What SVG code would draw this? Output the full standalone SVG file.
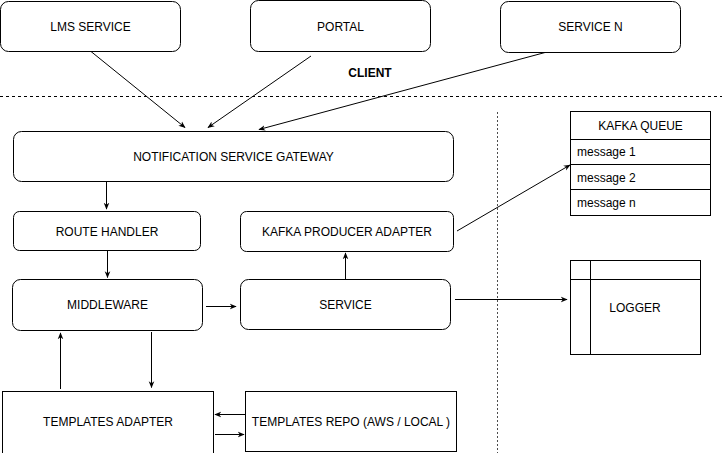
<svg xmlns="http://www.w3.org/2000/svg" width="722" height="453" viewBox="0 0 722 453">
<style>
.n{fill:#fff;stroke:#000;stroke-width:1}
.t{font-family:"Liberation Sans",Arial,sans-serif;font-size:12px;fill:#000;text-anchor:middle;dominant-baseline:central}
.l{font-family:"Liberation Sans",Arial,sans-serif;font-size:12px;fill:#000;dominant-baseline:central}
.c{stroke:#000;stroke-width:1;fill:none;marker-end:url(#a)}
</style>
<defs>
<marker id="a" viewBox="0 0 10 10" refX="9" refY="5" markerWidth="7" markerHeight="7" orient="auto" markerUnits="userSpaceOnUse">
<path d="M0,1 L10,5 L0,9 L3,5 Z" fill="#000"/>
</marker>
</defs>
<rect width="722" height="453" fill="#fff"/>
<g id="separators">
<line x1="0" y1="96.5" x2="722" y2="96.5" stroke="#000" stroke-dasharray="3,3"/>
<line x1="497.5" y1="112" x2="497.5" y2="453" stroke="#000" stroke-dasharray="2,2" stroke-opacity="0.7"/>
<text class="t" x="370" y="73" style="font-weight:bold">CLIENT</text>
</g>
<g id="lms"><rect class="n" x="0.5" y="1.5" width="180" height="50" rx="8"/><text class="t" x="90.5" y="26.5">LMS SERVICE</text></g>
<g id="portal"><rect class="n" x="250.5" y="0.5" width="180" height="51" rx="8"/><text class="t" x="340.5" y="26.5">PORTAL</text></g>
<g id="servicen"><rect class="n" x="500.5" y="1.5" width="180" height="51" rx="8"/><text class="t" x="590.5" y="27">SERVICE N</text></g>
<g id="gateway"><rect class="n" x="13.5" y="131.5" width="440" height="50" rx="8"/><text class="t" x="233.5" y="156.5">NOTIFICATION SERVICE GATEWAY</text></g>
<g id="route"><rect class="n" x="13.5" y="211.5" width="187" height="39" rx="6"/><text class="t" x="107" y="231.5">ROUTE HANDLER</text></g>
<g id="middleware"><rect class="n" x="12.5" y="279.5" width="190" height="51" rx="8"/><text class="t" x="107.5" y="305">MIDDLEWARE</text></g>
<g id="kafkaproducer"><rect class="n" x="240.5" y="211.5" width="213" height="40" rx="6"/><text class="t" x="347" y="231.5">KAFKA PRODUCER ADAPTER</text></g>
<g id="service"><rect class="n" x="240.5" y="279.5" width="210" height="50" rx="8"/><text class="t" x="345.5" y="304.5">SERVICE</text></g>
<g id="kafkaqueue">
<rect class="n" x="570.5" y="111.5" width="140" height="104"/>
<line x1="570.5" y1="139.5" x2="710.5" y2="139.5" stroke="#000"/>
<line x1="570.5" y1="164.5" x2="710.5" y2="164.5" stroke="#000"/>
<line x1="570.5" y1="189.5" x2="710.5" y2="189.5" stroke="#000"/>
<text class="t" x="640.5" y="125.5">KAFKA QUEUE</text>
<text class="l" x="577" y="152">message 1</text>
<text class="l" x="577" y="177.5">message 2</text>
<text class="l" x="577" y="203">message n</text>
</g>
<g id="logger">
<rect class="n" x="570.5" y="260.5" width="130" height="94"/>
<line x1="590.5" y1="260.5" x2="590.5" y2="354.5" stroke="#000"/>
<line x1="570.5" y1="279.5" x2="700.5" y2="279.5" stroke="#000"/>
<text class="t" x="635" y="307.5">LOGGER</text>
</g>
<g id="templatesadapter"><rect class="n" x="2.5" y="391.5" width="211" height="62"/><text class="t" x="108" y="421.5">TEMPLATES ADAPTER</text></g>
<g id="templatesrepo"><rect class="n" x="245.5" y="391.5" width="211" height="60"/><text class="t" x="351" y="421.5">TEMPLATES REPO (AWS / LOCAL )</text></g>
<g id="connectors">
<line class="c" x1="91" y1="51.5" x2="185" y2="127.5"/>
<line class="c" x1="311" y1="56" x2="208" y2="127.5"/>
<line class="c" x1="545" y1="52.5" x2="259" y2="129.5"/>
<line class="c" x1="106.5" y1="182" x2="106.5" y2="209"/>
<line class="c" x1="107.5" y1="251" x2="107.5" y2="277.5"/>
<line class="c" x1="206" y1="306.5" x2="236" y2="306.5"/>
<line class="c" x1="345.5" y1="279" x2="345.5" y2="253"/>
<line class="c" x1="457" y1="231" x2="570" y2="165"/>
<line class="c" x1="455" y1="299.5" x2="567" y2="299.5"/>
<line class="c" x1="60.5" y1="389" x2="60.5" y2="333"/>
<line class="c" x1="151.5" y1="332" x2="151.5" y2="387.5"/>
<line class="c" x1="245" y1="414.5" x2="215" y2="414.5"/>
<line class="c" x1="215" y1="434.5" x2="244" y2="434.5"/>
</g>
</svg>
